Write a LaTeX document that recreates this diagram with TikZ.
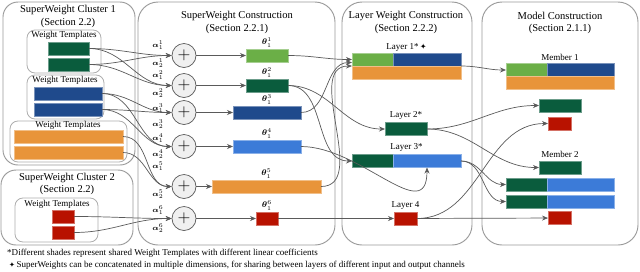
\documentclass[tikz,border=0pt]{standalone}
\usepackage{bm}
\usepackage{fontspec}
\setmainfont{Liberation Serif}
\newfontfamily\symfont{DejaVu Sans}
\usepackage{tikz}
\usetikzlibrary{arrows.meta,positioning}
\definecolor{lgreen}{HTML}{6BAF47}
\definecolor{dgreen}{HTML}{0A5C3D}
\definecolor{dblue}{HTML}{1F4A8C}
\definecolor{lblue}{HTML}{3C7BD8}
\definecolor{worange}{HTML}{E8943A}
\definecolor{wred}{HTML}{B81200}
\definecolor{linegray}{HTML}{5A5A5A}
\definecolor{panelgray}{HTML}{9A9A9A}

\begin{document}
\begin{tikzpicture}[x=0.3mm, y=-0.3mm,
    panel/.style={draw=panelgray, line width=0.8pt, rounded corners=6mm},
    tbox/.style={draw=panelgray!80, line width=0.7pt, rounded corners=2.4mm},
    title/.style={align=center, font=\fontsize{9}{11}\selectfont},
    lab/.style={font=\fontsize{7.7}{9}\selectfont, inner sep=1pt},
    note/.style={anchor=west, font=\fontsize{7.7}{9}\selectfont, inner sep=0pt},
    bar/.style={rectangle, fill=#1, draw=#1!60!white, line width=0.4pt, minimum height=13*0.3mm, inner sep=0pt, outer sep=0pt},
    wd/.style={minimum width=#1*0.3mm},
    plus/.style={circle, draw=linegray, fill=gray!12, line width=0.6pt, minimum size=24*0.3mm, inner sep=0pt, font=\Large},
    coef/.style={font=\fontsize{6}{7}\selectfont, inner sep=0pt},
    par/.style={font=\fontsize{7}{8}\selectfont, inner sep=0.5pt},
    arrow/.style={-{Stealth[length=1.8mm, width=1.5mm]}, draw=linegray, line width=0.6pt}
]
    \useasboundingbox (0,0) rectangle (640,271);

    \draw[panel, rounded corners=4.5mm] (3,2) rectangle (135,165);
    \draw[panel, rounded corners=4.5mm] (1,170) rectangle (133,245);
    \draw[panel] (138,2) rectangle (335,245);
    \draw[panel] (342,2) rectangle (472,245);
    \draw[panel] (482,2) rectangle (638,245);
    \draw[tbox] (27,30) rectangle (101,73);
    \draw[tbox] (27,75) rectangle (104,119);
    \draw[tbox] (10,121) rectangle (127,162);
    \draw[tbox] (15,198) rectangle (98,242);

    \node[title] (clus1) at (68,16.5) {SuperWeight Cluster 1\\(Section 2.2)};
    \node[title] (clus2) at (67,184) {SuperWeight Cluster 2\\(Section 2.2)};
    \node[title] (swc) at (237,22.5) {SuperWeight Construction\\(Section 2.2.1)};
    \node[title] (lwc) at (406,22.5) {Layer Weight Construction\\(Section 2.2.2)};
    \node[title] (mc) at (560,23) {Model Construction\\(Section 2.1.1)};

    \node[lab] (tg) at (64,35.5) {Weight Templates};
    \node[lab] (tb) at (65,80.5) {Weight Templates};
    \node[lab] (to) at (68,125.5) {Weight Templates};
    \node[lab] (tr) at (57,204) {Weight Templates};

    \node[bar=dgreen, wd=41] (g1) at (68.5,48.5) {};
    \node[bar=dgreen, wd=41] (g2) at (68.5,64.5) {};
    \node[bar=dblue, wd=68] (b1) at (68,93.5) {};
    \node[bar=dblue, wd=68] (b2) at (68,109.5) {};
    \node[bar=worange, wd=109] (o1) at (68.5,136.5) {};
    \node[bar=worange, wd=109] (o2) at (68.5,152.5) {};
    \node[bar=wred, wd=22] (r1) at (63,216.5) {};
    \node[bar=wred, wd=22] (r2) at (63,232.5) {};

    \node[plus] (c1) at (184,55.5) {$+$};
    \node[plus] (c2) at (184,85.5) {$+$};
    \node[plus] (c3) at (184,112.5) {$+$};
    \node[plus] (c4) at (184,146.5) {$+$};
    \node[plus] (c5) at (184,186.5) {$+$};
    \node[plus] (c6) at (184,218.5) {$+$};

    \node[coef] (a11) at (158,45) {$\bm{\alpha}^1_1$};
    \node[coef] (a12) at (158,63) {$\bm{\alpha}^1_2$};
    \node[coef] (a21) at (158,75) {$\bm{\alpha}^2_1$};
    \node[coef] (a22) at (158,93) {$\bm{\alpha}^2_2$};
    \node[coef] (a31) at (158,108) {$\bm{\alpha}^3_1$};
    \node[coef] (a32) at (158,124) {$\bm{\alpha}^3_2$};
    \node[coef] (a41) at (158,138) {$\bm{\alpha}^4_1$};
    \node[coef] (a42) at (158,154) {$\bm{\alpha}^4_2$};
    \node[coef] (a51) at (158,166) {$\bm{\alpha}^5_1$};
    \node[coef] (a52) at (158,194) {$\bm{\alpha}^5_2$};
    \node[coef] (a61) at (158,210) {$\bm{\alpha}^6_1$};
    \node[coef] (a62) at (158,228) {$\bm{\alpha}^6_2$};

    \node[bar=lgreen, wd=42] (t1) at (267,55.5) {};
    \node[bar=dgreen, wd=42] (t2) at (267,85.5) {};
    \node[bar=dblue, wd=68] (t3) at (267,112.5) {};
    \node[bar=lblue, wd=68] (t4) at (267,146.5) {};
    \node[bar=worange, wd=109] (t5) at (266.5,186.5) {};
    \node[bar=wred, wd=22] (t6) at (267,218.5) {};
    \node[par, above=1pt of t1] (p1) {$\bm{\theta}^1_1$};
    \node[par, above=1pt of t2] (p2) {$\bm{\theta}^2_1$};
    \node[par, above=1pt of t3] (p3) {$\bm{\theta}^3_1$};
    \node[par, above=1pt of t4] (p4) {$\bm{\theta}^4_1$};
    \node[par, above=1pt of t5] (p5) {$\bm{\theta}^5_1$};
    \node[par, above=1pt of t6] (p6) {$\bm{\theta}^6_1$};

    \node[lab] (lay1) at (406.5,47) {Layer 1*\,{\symfont\fontsize{6.5}{8}\selectfont ✦}};
    \node[bar=lgreen, wd=41] (l1a) at (372.5,59.5) {};
    \node[bar=dblue, wd=68, right=0pt of l1a] (l1b) {};
    \node[bar=worange, wd=109] (l1c) at (406.5,72.5) {};
    \node[bar=dgreen, wd=42] (l2) at (406,129) {};
    \node[lab, above=1pt of l2] (lay2) {Layer 2*};
    \node[lab] (lay3) at (406.5,147) {Layer 3*};
    \node[bar=dgreen, wd=41] (l3a) at (372.5,161) {};
    \node[bar=lblue, wd=68, right=0pt of l3a] (l3b) {};
    \node[bar=wred, wd=23] (l4) at (405.5,218.5) {};
    \node[lab, above=1pt of l4] (lay4) {Layer 4};

    \node[lab] (mem1) at (560,57) {Member 1};
    \node[bar=lgreen, wd=41] (m1a) at (526.5,69.5) {};
    \node[bar=dblue, wd=67, right=0pt of m1a] (m1b) {};
    \node[bar=worange, wd=108] (m1c) at (560,82.5) {};
    \node[bar=dgreen, wd=42] (m1d) at (560,105.5) {};
    \node[bar=wred, wd=23] (m1e) at (559.5,123.5) {};
    \node[lab] (mem2) at (560,154) {Member 2};
    \node[bar=dgreen, wd=42] (m2a) at (560,167.5) {};
    \node[bar=dgreen, wd=41] (m2b) at (526.5,184.5) {};
    \node[bar=lblue, wd=67, right=0pt of m2b] (m2c) {};
    \node[bar=dgreen, wd=41] (m2d) at (526.5,201.5) {};
    \node[bar=lblue, wd=67, right=0pt of m2d] (m2e) {};
    \node[bar=wred, wd=23] (m2f) at (559.5,218) {};

    \draw[arrow] (g1.east) to[out=0, in=180] (c1.west);
    \draw[arrow] (g1.east) to[out=0, in=180] (c2.west);
    \draw[arrow] (g2.east) to[out=0, in=180] (c1.west);
    \draw[arrow] (g2.east) to[out=0, in=180] (c2.west);
    \draw[arrow] (b1.east) to[out=0, in=180] (c3.west);
    \draw[arrow] (b1.east) to[out=0, in=180] (c4.west);
    \draw[arrow] (b2.east) to[out=0, in=180] (c3.west);
    \draw[arrow] (b2.east) to[out=0, in=180] (c4.west);
    \draw[arrow] (o1.east) to[out=0, in=180] (c5.west);
    \draw[arrow] (o2.east) to[out=0, in=180] (c5.west);
    \draw[arrow] (r1.east) to[out=0, in=180] (c6.west);
    \draw[arrow] (r2.east) to[out=0, in=180] (c6.west);

    \draw[arrow] (c1) -- (t1);
    \draw[arrow] (c2) -- (t2);
    \draw[arrow] (c3) -- (t3);
    \draw[arrow] (c4) -- (t4);
    \draw[arrow] (c5) -- (t5);
    \draw[arrow] (c6) -- (t6);

    \draw[arrow] (t1.east) to[out=0, in=180] (l1a.west);
    \draw[arrow] (t3.east) to[out=0, in=180] ([yshift=-0.9mm]l1a.west);
    \draw[arrow] (t5.east) to[out=0, in=180] (l1c.north west);
    \draw[arrow] (t2.east) to[out=0, in=180] (l2.west);
    \draw[arrow] (t2.east) to[out=0, in=180] (l3a.west);
    \draw[arrow] (t4.east) to[out=0, in=-90, looseness=1.2] (l3b.south);
    \draw[arrow] (t6) -- (l4);

    \draw[arrow] (l1b.south east) to[out=0, in=180] ([yshift=1.8mm]m1a.south west);
    \draw[arrow] (l2.east) to[out=0, in=180] (m1d.west);
    \draw[arrow] (l2.east) to[out=0, in=180] (m2a.west);
    \draw[arrow] (l3b.east) to[out=0, in=180] (m2b.west);
    \draw[arrow] (l3b.east) to[out=0, in=180] (m2d.west);
    \draw[arrow] (l4.east) to[out=0, in=180] (m1e.west);
    \draw[arrow] (l4) -- (m2f);

    \node[note] (note1) at (7,253) {*Different shades represent shared Weight Templates with different linear coefficients};
    \node[note] (note2) at (9,265) {{\symfont\fontsize{6}{8}\selectfont ✦}\,SuperWeights can be concatenated in multiple dimensions, for sharing between layers of different input and output channels};
\end{tikzpicture}
\end{document}
